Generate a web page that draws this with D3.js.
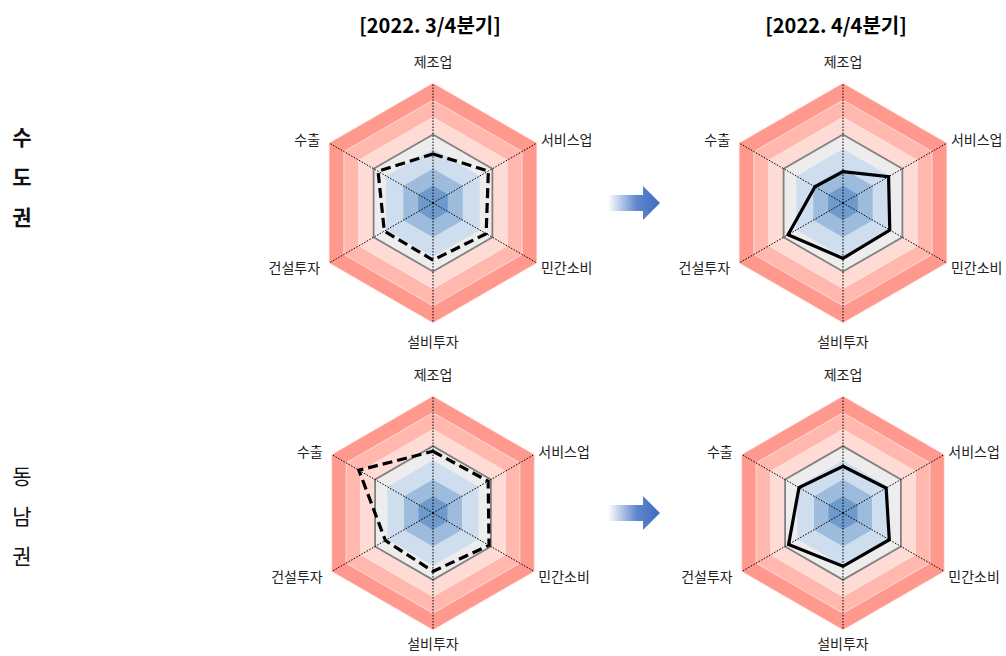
<!DOCTYPE html>
<html><head><meta charset="utf-8">
<script src="https://cdn.jsdelivr.net/npm/d3@7"></script>
<style>body{margin:0;background:#fff;} svg{display:block;font-family:"Noto Sans CJK KR","Noto Sans",sans-serif;}</style>
</head><body>
<svg id="c" width="1006" height="656"></svg>
<script>
// ---- data ----
const axes = ["제조업","서비스업","민간소비","설비투자","건설투자","수출"];
const periods = ["[2022. 3/4분기]","[2022. 4/4분기]"];
const regions = ["수도권","동남권"];
// values on a 0–7 level scale (3–4 = 보합 band)
const capital_q3 = [2.86,3.73,3.58,3.33,3.28,3.70];
const capital_q4 = [1.83,3.07,3.15,3.23,3.70,1.89];
const southeast_q3 = [3.69,3.81,3.87,3.49,3.29,5.12];
const southeast_q4 = [2.80,2.98,3.20,3.19,3.76,3.04];
const bandLevels = [7,6,5,4,3.15,2,1];
const bandColors = ["#FF998D","#FFB7AE","#FFDBD6","#EDEDED","#CFDEEE","#9DBBDC","#6E9BCB"];

const svg = d3.select("#c");
const cxs = [433,843];
const cys = [203,513];
const Rs = [120,117];
const bottomLabelOffset = [24,19];
const data = [[capital_q3,capital_q4],[southeast_q3,southeast_q4]];

const angle = i => -Math.PI/2 + i*Math.PI/3;

// titles
periods.forEach((t,i)=>{
  svg.append("text").attr("x",[430,836][i]).attr("y",33).attr("text-anchor","middle")
    .attr("font-size",20).attr("font-weight","bold").attr("fill","#000").text(t);
});

// row labels
regions.forEach((r,ri)=>{
  const chars = Array.from(r);
  chars.forEach((ch,k)=>{
    svg.append("text").attr("x",22).attr("y",[145,484][ri]+k*40).attr("text-anchor","middle")
      .attr("font-size",21).attr("font-weight",ri===0?"bold":"normal").attr("fill","#111").text(ch);
  });
});

// gradient for arrow
const defs = svg.append("defs");
const g = defs.append("linearGradient").attr("id","ag").attr("x1","0").attr("x2","1").attr("y1","0").attr("y2","0");
g.append("stop").attr("offset","0").attr("stop-color","#4472C4").attr("stop-opacity",0);
g.append("stop").attr("offset","0.55").attr("stop-color","#4472C4").attr("stop-opacity",0.85);
g.append("stop").attr("offset","1").attr("stop-color","#3F6BC0").attr("stop-opacity",1);

regions.forEach((r,ri)=>{
  const R = Rs[ri], cy = cys[ri];
  const rScale = d3.scaleLinear().domain([0,7]).range([0,R]);
  // arrow
  const ay = cy;
  svg.append("path").attr("fill","url(#ag)")
    .attr("d",`M608,${ay-8}L643,${ay-8}L643,${ay-17}L660,${ay}L643,${ay+17}L643,${ay+8}L608,${ay+8}Z`);

  [0,1].forEach(pi=>{
    const cx = cxs[pi];
    const gg = svg.append("g").attr("transform",`translate(${cx},${cy})`);
    const line = d3.lineRadial().angle((d,i)=>i*Math.PI/3).radius(d=>rScale(d)).curve(d3.curveLinearClosed);
    bandLevels.forEach((lv,bi)=>{
      gg.append("path").attr("d",line(d3.range(6).map(()=>lv)))
        .attr("fill",bandColors[bi])
        .attr("stroke", bi<3 ? "#FFE9E6" : "none").attr("stroke-width",0.8);
    });
    // 보합 outline
    gg.append("path").attr("d",line(d3.range(6).map(()=>4))).attr("fill","none")
      .attr("stroke","#808080").attr("stroke-width",1.8);
    // axes
    axes.forEach((a,i)=>{
      const ang = angle(i);
      gg.append("line").attr("x1",0).attr("y1",0)
        .attr("x2",rScale(7)*Math.cos(ang)).attr("y2",rScale(7)*Math.sin(ang))
        .attr("stroke","#000").attr("stroke-width",1).attr("stroke-dasharray","1.5,1.5");
      const lx = (rScale(7))*Math.cos(ang), ly = (rScale(7))*Math.sin(ang);
      let tx, ty, anchor;
      if(i===0){tx=0;ty=-R-16;anchor="middle";}
      else if(i===3){tx=0;ty=R+bottomLabelOffset[ri];anchor="middle";}
      else if(i===1||i===2){tx=lx+4;ty=ly+(i===1?2:10);anchor="start";}
      else {tx=lx-9;ty=ly+(i===5?2:10);anchor="end";}
      gg.append("text").attr("x",tx).attr("y",ty).attr("text-anchor",anchor)
        .attr("font-size",14).attr("fill","#222").text(a);
    });
    // data polygon
    gg.append("path").attr("d",line(data[ri][pi])).attr("fill","none")
      .attr("stroke","#000").attr("stroke-width",3.2).attr("stroke-linejoin","miter")
      .attr("stroke-dasharray", pi===0 ? "10,5" : null);
  });
});
</script>
</body></html>
